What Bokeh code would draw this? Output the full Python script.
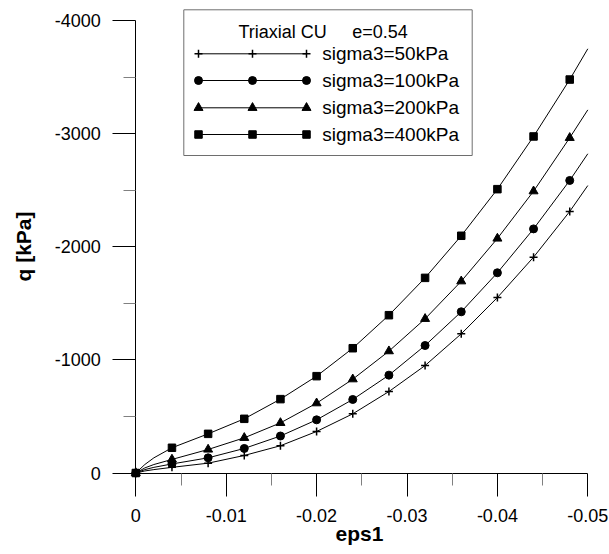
import math
from bokeh.plotting import figure
from bokeh.models import Range1d, FixedTicker, Label
from bokeh.embed import file_html
from bokeh.resources import INLINE
from bokeh.core.properties import value

# ---------------- data ----------------
eps = [0, -0.004, -0.008, -0.012, -0.016, -0.020, -0.024, -0.028,
       -0.032, -0.036, -0.040, -0.044, -0.048]
q50 = [0, -50, -87, -155, -241, -367, -523, -720, -950, -1230, -1551, -1908, -2312]
q100 = [0, -80, -134, -217, -327, -470, -650, -865, -1127, -1425, -1770, -2158, -2586]
q200 = [0, -120, -208, -311, -443, -617, -829, -1077, -1363, -1695, -2073, -2491, -2963]
q400 = [0, -223, -346, -479, -653, -856, -1103, -1395, -1725, -2097, -2509, -2975, -3478]

# extra points on the drawn curves (near origin and at the right end)
eps_start = [-0.001, -0.002]
q50_start = [-18, -30]
q100_start = [-30, -50]
q200_start = [-45, -75]
q400_start = [-75, -134]
eps_end = -0.05
q50_end = -2541
q100_end = -2822
q200_end = -3210
q400_end = -3750

series_names = ["sigma3=50kPa", "sigma3=100kPa", "sigma3=200kPa", "sigma3=400kPa"]
series_markers = ["cross", "circle", "triangle", "square"]
legend_title = "Triaxial CU"
legend_title2 = "e=0.54"

x_ticks = [0, -0.01, -0.02, -0.03, -0.04, -0.05]
x_tick_labels = ["0", "-0.01", "-0.02", "-0.03", "-0.04", "-0.05"]
x_minor = [-0.005, -0.015, -0.025, -0.035, -0.045]
y_ticks = [0, -1000, -2000, -3000, -4000]
y_tick_labels = ["0", "-1000", "-2000", "-3000", "-4000"]
y_minor = [-500, -1500, -2500, -3500]
x_label = "eps1"
y_label = "q [kPa]"

# ---------------- layout (pixels) ----------------
W, H = 609, 554
FL, FR, FT, FB = 0, W, 0, H                  # frame covers the page
X0PX, X1PX = 135.3, 587.3                    # x = 0 and x = -0.05
Y0PX, Y1PX = 472.5, 20.0                     # q = 0 and q = -4000
XA, XB = 0.0, -0.05
YA, YB = 0.0, -4000.0


def px2x(px):
    return XA + (px - X0PX) / (X1PX - X0PX) * (XB - XA)


def px2y(py):
    return YA + (py - Y0PX) / (Y1PX - Y0PX) * (YB - YA)


FONT = "Liberation Sans"

p = figure(width=W, height=H, output_backend="svg", toolbar_location=None,
           x_range=Range1d(px2x(FL), px2x(FR)),
           y_range=Range1d(px2y(FB), px2y(FT)),
           min_border=0, min_border_left=0, min_border_right=0,
           min_border_top=0, min_border_bottom=0)
p.outline_line_color = None
p.grid.visible = False
p.background_fill_color = "white"
p.border_fill_color = "white"

xa = p.xaxis[0]
ya = p.yaxis[0]
xa.ticker = FixedTicker(ticks=x_ticks, minor_ticks=x_minor)
ya.ticker = FixedTicker(ticks=y_ticks, minor_ticks=y_minor)
xa.major_label_overrides = {t: l for t, l in zip(x_ticks, x_tick_labels)}
ya.major_label_overrides = {t: l for t, l in zip(y_ticks, y_tick_labels)}
xa.bounds = (XB, XA)
ya.bounds = (YB, YA)
xa.fixed_location = YA
ya.fixed_location = XA
for ax in (xa, ya):
    ax.axis_line_color = "black"
    ax.axis_line_width = 1
    ax.major_tick_out = 23
    ax.major_tick_in = 0
    ax.minor_tick_out = 12
    ax.minor_tick_in = 0
    ax.major_tick_line_color = "black"
    ax.minor_tick_line_color = "#808080"
    ax.major_label_text_font = FONT
    ax.major_label_text_font_size = "18px"
    ax.major_label_text_color = "black"
xa.major_label_standoff = 13
ya.major_label_standoff = 12

# axis titles
p.add_layout(Label(x=px2x(23), y=px2y(246), text=y_label, angle=math.pi / 2,
                   text_align="center", text_baseline="middle",
                   text_font=FONT, text_font_size="21px", text_font_style="bold",
                   text_color="black"))
p.add_layout(Label(x=px2x(359), y=px2y(533), text=x_label,
                   text_align="center", text_baseline="middle",
                   text_font=FONT, text_font_size="21px", text_font_style="bold",
                   text_color="black"))

# curves and markers
all_q = [q50, q100, q200, q400]
all_start = [q50_start, q100_start, q200_start, q400_start]
all_end = [q50_end, q100_end, q200_end, q400_end]
marker_size = {"cross": 8, "circle": 8, "triangle": 9, "square": 7.5}

for q, qs, qe, mk in zip(all_q, all_start, all_end, series_markers):
    lx = [eps[0]] + eps_start + eps[1:] + [eps_end]
    ly = [q[0]] + qs + q[1:] + [qe]
    p.line(lx, ly, line_color="black", line_width=1)
    p.scatter(eps, q, marker=mk, size=marker_size[mk], fill_color="black",
              line_color="black", line_width=1.5 if mk == "cross" else 1)

# legend (drawn manually: each entry shows a line with three markers)
p.quad(left=[px2x(183.3)], right=[px2x(471.7)], top=[px2y(9.3)], bottom=[px2y(155)],
       fill_color="white", line_color="#6e6e6e", line_width=1)
p.text(x=[px2x(238), px2x(351.7)], y=[px2y(31.7)] * 2,
       text=[legend_title, legend_title2],
       text_font=value(FONT), text_font_size=value("18px"),
       text_align="left", text_baseline="middle", text_color="black")
row_y = [53.3, 80.0, 107.3, 134.0]
mx = [198, 252, 306]
for ry, name, mk in zip(row_y, series_names, series_markers):
    yy = px2y(ry)
    p.line([px2x(mx[0]), px2x(mx[-1])], [yy, yy], line_color="black", line_width=1)
    p.scatter([px2x(m) for m in mx], [yy] * 3, marker=mk, size=marker_size[mk],
              fill_color="black", line_color="black",
              line_width=1.5 if mk == "cross" else 1)
    p.text(x=[px2x(321.7)], y=[yy], text=[name],
           text_font=value(FONT), text_font_size=value("19px"),
           text_align="left", text_baseline="middle", text_color="black")

open("out.html", "w").write(file_html(p, INLINE))
